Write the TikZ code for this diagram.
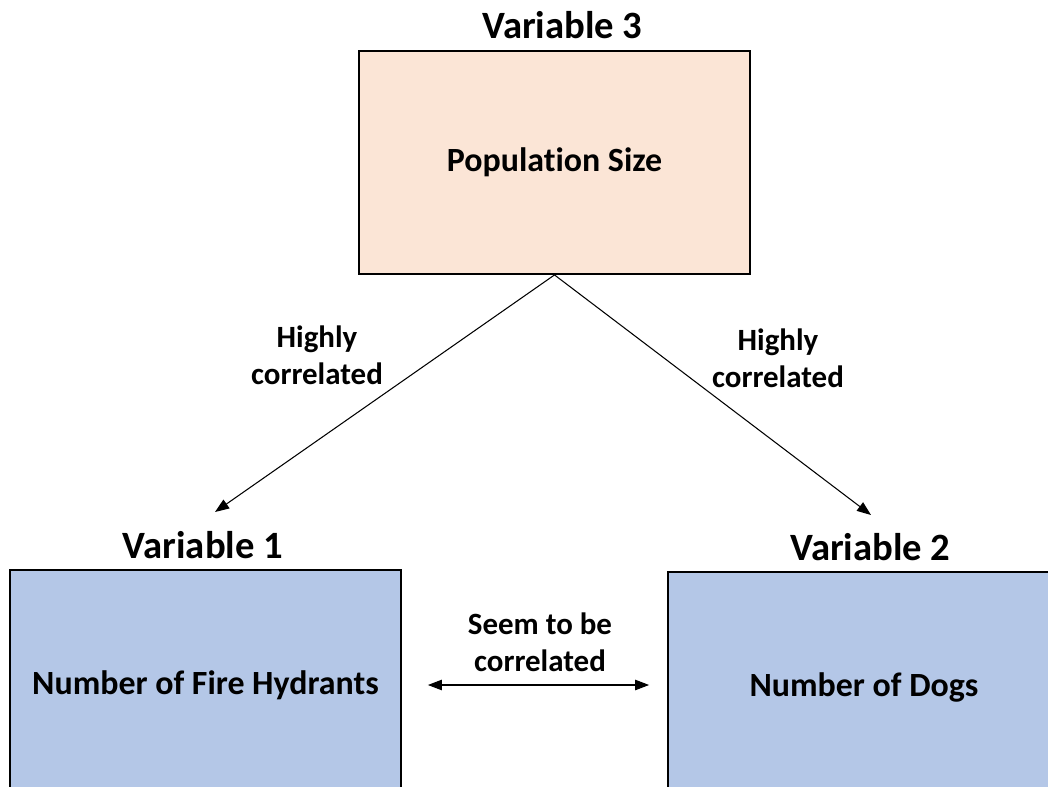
\documentclass[tikz,border=0pt]{standalone}
\usepackage{fontspec}
\setmainfont{Carlito}[Ligatures={NoCommon,NoContextual}]
\usetikzlibrary{arrows.meta,positioning}
\definecolor{peach}{HTML}{FBE5D6}
\definecolor{paleblue}{HTML}{B4C7E7}
\tikzset{
varbox/.style={draw,line width=1.1pt,minimum width=7.82cm,font=\fontsize{19.3}{23}\selectfont\bfseries},
vartitle/.style={font=\fontsize{22}{26}\selectfont\bfseries,inner sep=0pt},
corrlabel/.style={font=\fontsize{17.6}{21}\selectfont\bfseries,align=center,inner sep=0pt},
corrarrow/.style={line width=0.6pt,-{Triangle[length=8pt,width=6pt]}}
}
\begin{document}
\begin{tikzpicture}[x=0.02cm,y=-0.02cm]
\useasboundingbox (0,0) rectangle (1048,787);
\clip (0,0) rectangle (1048,787);
\node[varbox,fill=peach,minimum height=4.46cm] (pop) at (554.5,162.5) {Population Size};
\node[varbox,fill=paleblue,minimum height=4.6cm] (hyd) at (205.5,685) {Number of Fire Hydrants};
\node[varbox,fill=paleblue,minimum width=7.84cm,minimum height=4.6cm] (dogs) at (864,687) {Number of Dogs};
\node[vartitle,above=0.22cm of pop,xshift=0.16cm] (poptitle) {Variable 3};
\node[vartitle,above=0.2cm of hyd,xshift=-0.05cm] (hydtitle) {Variable 1};
\node[vartitle,above=0.2cm of dogs,xshift=0.13cm] (dogstitle) {Variable 2};
\coordinate (hydtip) at (215,512);
\coordinate (dogstip) at (871,515);
\draw[corrarrow] (pop.south) -- (hydtip);
\draw[corrarrow] (pop.south) -- (dogstip);
\node[corrlabel] (hydlabel) at (317,355) {Highly\\correlated};
\node[corrlabel] (dogslabel) at (778,358) {Highly\\correlated};
\draw[corrarrow,{Triangle[length=8pt,width=6pt]}-{Triangle[length=8pt,width=6pt]},shorten <=0.52cm,shorten >=0.36cm] (hyd.east) -- (hyd.east -| dogs.west);
\node[corrlabel] (seemlabel) at (540,642) {Seem to be\\correlated};
\end{tikzpicture}
\end{document}
